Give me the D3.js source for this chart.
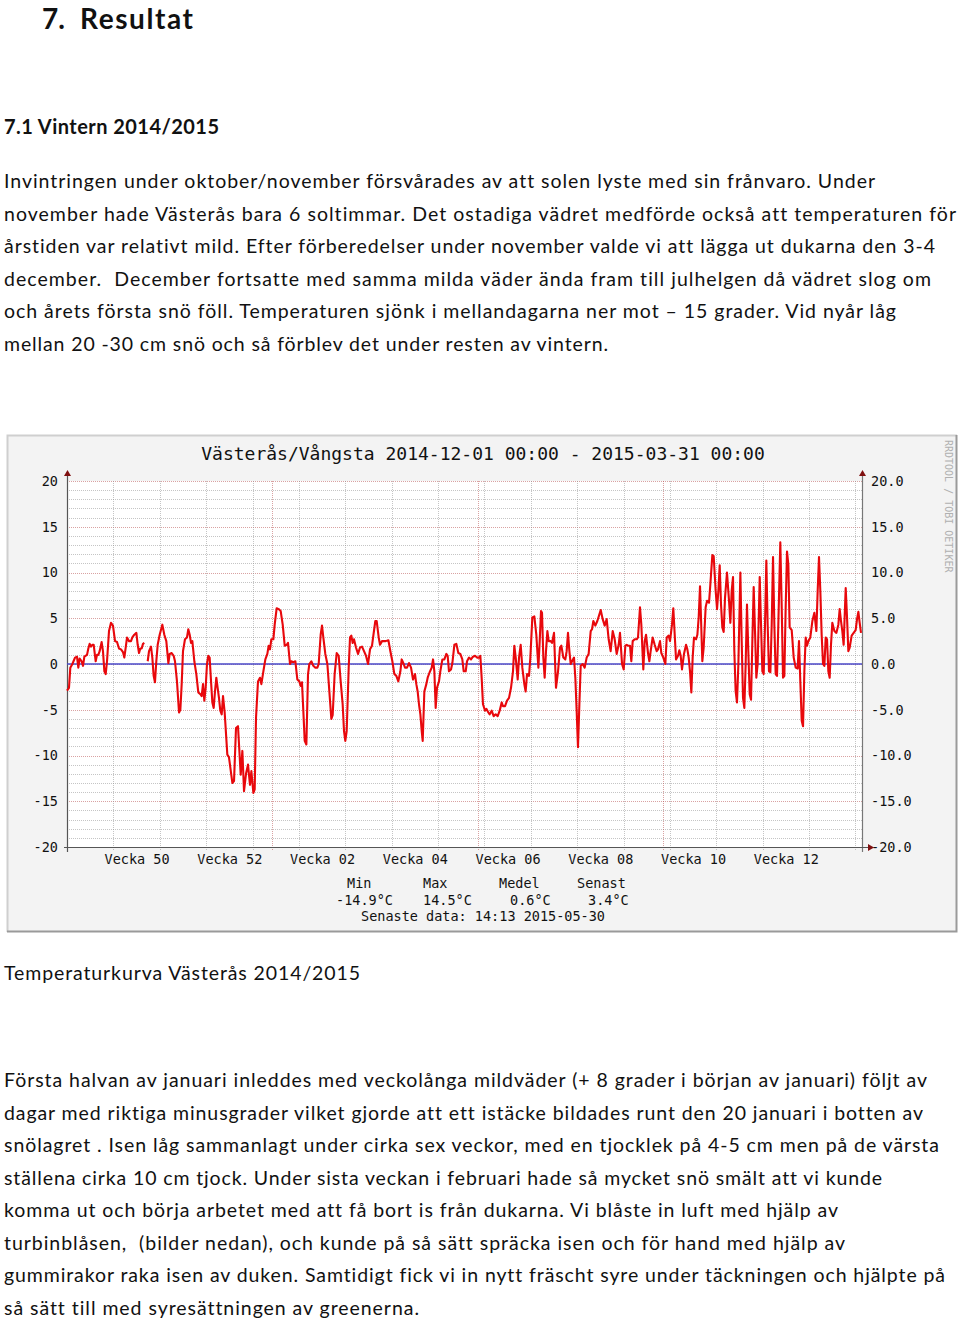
<!DOCTYPE html>
<html><head><meta charset="utf-8">
<script src="https://cdn.jsdelivr.net/npm/d3@7"></script>
<style>body{margin:0;background:#fff}svg{display:block}text{font-variant-ligatures:none;font-feature-settings:"liga" 0,"clig" 0}</style>
</head><body>
<svg id="page" width="960" height="1323"></svg>
<script>
// ---------------- data ----------------
const chartTitle = "Västerås/Vångsta 2014-12-01 00:00 - 2015-03-31 00:00";
const periodStart = "2014-12-01";
const periodEnd = "2015-03-31";
const yTicks = [-20, -15, -10, -5, 0, 5, 10, 15, 20];
const weekLabelMondays = ["2014-12-08","2014-12-22","2015-01-05","2015-01-19","2015-02-02","2015-02-16","2015-03-02","2015-03-16"];
const weekLabels = ["Vecka 50","Vecka 52","Vecka 02","Vecka 04","Vecka 06","Vecka 08","Vecka 10","Vecka 12"];
const legendHeads = ["Min","Max","Medel","Senast"];
const legendValues = ["-14.9°C","14.5°C","0.6°C","3.4°C"];
const lastDataText = "Senaste data: 14:13 2015-05-30";
const watermark = "RRDTOOL / TOBI OETIKER";
// [days since 2014-12-01 00:00, temperature °C]; null = missing data
const tempSeries = [
[0,-2.9],[0.30,-2.6],[0.50,-0.4],[0.81,0.0],[1.21,0.7],[1.51,0.8],[1.71,-0.4],[1.91,0.6],[2.21,0.3],[2.42,-0.2],
[2.62,0.8],[3.02,1.0],[3.22,1.7],[3.42,2.2],[3.62,1.9],[3.82,2.1],[4.03,2.1],[4.33,0.3],[4.53,1.0],[4.73,1.0],
[4.93,1.4],[5.23,2.4],[5.43,1.4],[5.64,-0.8],[5.84,-1.1],[6.04,0.3],[6.34,3.6],[6.64,4.5],[6.94,4.2],[7.25,2.5],
[7.55,2.4],[7.85,1.7],[8.15,1.6],[8.45,1.3],[8.65,0.7],[8.86,1.8],[9.06,2.9],[9.36,2.5],[9.66,2.5],[9.86,2.9],
[10.16,3.2],[10.47,3.4],[10.67,2.1],[10.87,1.2],[11.07,1.7],[11.27,1.7],[11.47,2.2],[11.67,2.3],[11.9,null],
[12.18,0.3],[12.38,1.4],[12.68,1.9],[12.88,0.7],[13.08,-1.3],[13.28,-2.0],[13.48,0.3],[13.69,2.1],[13.99,3.2],
[14.39,4.3],[14.69,3.2],[14.99,2.5],[15.30,0.1],[15.50,1.1],[15.80,1.2],[16.10,0.9],[16.30,0.3],[16.60,-1.9],
[16.91,-5.3],[17.11,-5.0],[17.31,-2.2],[17.51,1.4],[17.81,2.7],[18.11,2.9],[18.31,3.8],[18.52,3.2],[18.72,2.3],
[18.92,2.5],[19.22,0.3],[19.52,-1.1],[19.82,-3.1],[20.13,-3.3],[20.33,-3.5],[20.53,-2.2],[20.73,-4.0],[20.93,-2.6],
[21.13,0.0],[21.33,0.9],[21.53,0.7],[21.74,-1.9],[21.94,-4.2],[22.14,-4.8],[22.34,-3.0],[22.54,-1.5],[22.74,-2.6],
[22.94,-3.7],[23.14,-5.1],[23.35,-5.5],[23.55,-3.5],[23.80,-5.3],
[24.20,-9.9],[24.45,-10.2],[24.96,-13.0],[25.21,-12.8],[25.51,-7.0],[25.81,-6.8],[26.22,-12.1],[26.47,-9.5],
[26.72,-13.9],[27.02,-12.0],[27.32,-11.0],[27.62,-13.2],[27.83,-11.7],[28.13,-14.1],[28.33,-13.7],[28.53,-5.9],
[28.83,-1.9],[29.13,-1.5],[29.34,-2.2],[29.64,-0.8],[29.94,0.5],[30.24,1.1],[30.44,2.0],[30.64,1.6],[30.84,2.7],
[31.15,2.7],[31.35,4.3],[31.65,6.1],[31.95,6.0],[32.25,5.8],[32.56,4.3],[32.86,2.0],[33.16,2.1],[33.36,2.3],
[33.66,0.0],[33.86,0.3],[34.17,0.2],[34.47,0.3],[34.77,-1.7],[35.07,-1.9],[35.27,-2.4],[35.47,-2.0],[35.67,-5.1],
[35.88,-8.4],[36.13,-8.8],[36.38,-1.1],[36.58,0.0],[36.88,0.3],[37.18,-0.2],[37.49,-0.4],[37.79,-0.4],[37.99,0.0],
[38.29,3.2],[38.49,4.2],[38.69,2.9],[38.99,1.1],[39.30,0.0],[39.60,-3.0],[39.90,-6.0],[40.10,-5.6],[40.40,-1.1],
[40.71,1.2],[41.01,0.9],[41.31,-1.9],[41.61,-4.4],[41.81,-7.3],[42.01,-8.4],[42.22,-7.3],[42.52,-0.4],[42.72,2.9],
[42.92,3.1],[43.12,2.3],[43.32,2.7],[43.62,1.8],[43.93,1.1],[44.23,1.8],[44.53,1.9],[44.83,1.4],[45.13,0.9],
[45.44,0.0],[45.74,1.6],[46.04,2.0],[46.24,3.1],[46.54,4.7],[46.74,4.7],[47.05,2.9],[47.25,2.1],[47.55,2.5],
[47.85,2.5],[48.10,2.5],[48.51,2.6],[48.81,1.4],[49.11,0.3],[49.41,-1.1],[49.71,-1.3],[50.01,-1.9],[50.32,-0.8],
[50.52,0.5],[50.82,0.0],[51.02,-0.4],[51.32,-0.4],[51.62,0.1],[51.93,-0.4],[52.23,-1.7],[52.53,-1.1],[52.73,-2.2],
[52.93,-3.0],[53.13,-4.4],[53.34,-5.5],[53.54,-7.3],[53.69,-8.4],[53.94,-3.0],[54.24,-2.2],[54.44,-1.5],[54.74,-0.9],
[55.05,-0.4],[55.25,0.5],[55.45,-0.8],[55.65,-4.8],[55.85,-2.6],[56.15,-1.9],[56.35,-0.8],[56.66,0.5],[56.96,0.5],
[57.26,1.1],[57.46,0.9],[57.66,-0.8],[57.96,-0.6],[58.17,0.1],[58.47,2.1],[58.77,2.2],[59.07,1.2],[59.37,1.1],
[59.67,0.5],[59.88,-0.8],[60.18,-0.8],[60.38,0.3],[60.68,0.7],[60.98,0.5],[61.28,0.8],[61.59,0.9],[61.89,0.7],
[62.19,0.7],[62.39,0.9],[62.59,-1.5],[62.79,-4.4],[63.10,-5.1],[63.30,-4.9],[63.60,-5.3],[63.80,-5.5],[64.10,-5.1],
[64.40,-5.7],[64.71,-5.5],[65.01,-5.7],[65.31,-5.1],[65.61,-4.2],[65.81,-4.6],[66.12,-4.6],[66.42,-4.0],[66.72,-3.7],
[67.02,-2.6],[67.32,-0.8],[67.52,2.0],[67.73,0.7],[68.03,-1.7],[68.23,0.7],[68.48,2.1],[68.73,-0.4],[69.03,-2.2],
[69.23,-3.0],[69.44,-1.1],[69.74,-1.3],[69.94,0.7],[70.24,5.1],[70.54,5.2],[70.84,3.2],[71.15,-0.4],[71.35,2.5],
[71.55,5.8],[71.70,5.6],[71.90,0.7],[72.10,-1.5],[72.30,1.4],[72.51,3.6],[72.71,2.5],[73.01,2.5],[73.21,2.3],
[73.51,3.4],[73.81,-2.6],[74.12,-0.8],[74.42,1.8],[74.62,2.0],[74.92,0.7],[75.22,0.5],[75.42,1.4],[75.62,3.4],
[75.83,1.4],[76.03,0.0],[76.23,0.3],[76.53,0.7],[76.73,-1.5],[76.93,-5.1],[77.13,-9.1],[77.34,-4.4],[77.54,-0.2],
[77.84,0.0],[78.14,-0.4],[78.44,0.7],[78.74,1.1],[79.05,3.6],[79.25,3.8],[79.45,4.7],[79.75,4.2],[80.05,4.7],
[80.35,5.4],[80.56,5.9],[80.86,4.9],[81.16,4.2],[81.46,4.9],[81.76,2.7],[82.06,1.4],[82.37,3.6],[82.67,2.7],
[82.97,1.1],[83.27,2.1],[83.47,3.4],[83.78,0.0],[84.03,-0.6],[84.28,2.0],[84.48,2.1],[84.68,2.0],[84.98,2.0],
[85.18,0.3],[85.39,2.5],[85.69,2.7],[85.99,2.7],[86.19,2.9],[86.49,6.2],[86.69,4.3],[86.99,-0.6],[87.20,2.5],
[87.40,3.2],[87.70,1.2],[87.90,0.3],[88.10,1.4],[88.40,2.9],[88.71,2.1],[89.01,1.4],[89.21,1.6],[89.51,2.5],
[89.71,1.2],[90.01,0.7],[90.32,0.0],[90.52,2.9],[90.82,3.1],[91.02,2.5],[91.32,4.3],[91.52,6.1],[91.73,3.2],
[91.93,0.5],[92.23,0.9],[92.43,1.5],[92.63,0.9],[92.83,-0.6],[93.13,1.1],[93.44,2.1],[93.64,1.6],[93.84,0.7],
[94.04,-0.8],[94.24,-3.1],[94.44,0.7],[94.64,2.9],[94.95,2.7],[95.15,3.2],[95.35,5.1],[95.55,8.5],[95.90,0.3],
[96.10,1.8],[96.40,6.2],[96.61,6.9],[96.91,6.7],[97.11,8.7],[97.41,11.9],[97.61,11.8],[97.91,8.0],[98.12,6.0],
[98.32,8.0],[98.52,10.8],[98.72,6.5],[98.92,4.0],[99.12,3.5],[99.32,7.2],[99.62,10.0],[99.93,6.9],[100.13,4.5],
[100.33,8.0],[100.53,9.5],[100.73,1.4],[100.93,-3.0],[101.13,-4.2],[101.34,0.0],[101.64,10.0],[101.84,2.5],
[102.04,-3.7],[102.24,-4.8],[102.44,0.0],[102.64,6.5],[102.84,1.4],[103.05,-3.3],[103.25,-3.9],[103.45,2.5],
[103.65,8.4],[103.85,3.6],[104.05,-1.5],[104.25,0.0],[104.56,9.5],[104.76,4.3],[104.96,-0.8],[105.16,-1.1],
[105.36,4.3],[105.56,11.3],[105.76,4.3],[105.96,-0.8],[106.17,-0.9],[106.37,4.3],[106.57,11.7],[106.77,4.3],
[106.97,-1.1],[107.17,-1.3],[107.37,4.3],[107.67,13.3],[107.88,6.2],[108.08,-1.5],[108.28,-1.3],[108.48,6.2],
[108.68,12.3],[108.88,10.9],[109.08,4.0],[109.39,3.7],[109.69,0.7],[109.99,-0.4],[110.29,-0.5],[110.49,2.5],
[110.69,-1.9],[110.90,-6.2],[111.10,-6.8],[111.30,-0.8],[111.50,2.9],[111.70,2.0],[111.90,2.5],[112.20,2.9],
[112.51,4.7],[112.81,5.6],[113.11,3.6],[113.31,8.0],[113.51,11.7],[113.71,8.0],[113.91,3.2],[114.12,0.0],
[114.32,-0.2],[114.52,2.9],[114.72,2.7],[114.92,-0.8],[115.12,-1.5],[115.32,2.1],[115.52,4.5],[115.83,3.6],
[116.13,3.4],[116.43,4.3],[116.63,6.0],[116.83,4.7],[117.03,3.6],[117.23,2.1],[117.54,8.3],[117.74,5.1],
[117.94,1.4],[118.14,1.8],[118.44,3.1],[118.74,3.4],[119.04,3.7],[119.25,4.9],[119.45,5.7],[119.65,4.5],[119.85,3.4]
];

// ---------------- page text ----------------
const heading1 = ["7.", "Resultat"];
const heading2 = "7.1 Vintern 2014/2015";
const para1 = [
 "Invintringen under oktober/november försvårades av att solen lyste med sin frånvaro. Under",
 "november hade Västerås bara 6 soltimmar. Det ostadiga vädret medförde också att temperaturen för",
 "årstiden var relativt mild. Efter förberedelser under november valde vi att lägga ut dukarna den 3-4",
 "december.  December fortsatte med samma milda väder ända fram till julhelgen då vädret slog om",
 "och årets första snö föll. Temperaturen sjönk i mellandagarna ner mot – 15 grader. Vid nyår låg",
 "mellan 20 -30 cm snö och så förblev det under resten av vintern."
];
const para1Widths = [871, 952, 931, 927, 892, 604];
const caption = "Temperaturkurva Västerås 2014/2015";
const para2 = [
 "Första halvan av januari inleddes med veckolånga mildväder (+ 8 grader i början av januari) följt av",
 "dagar med riktiga minusgrader vilket gjorde att ett istäcke bildades runt den 20 januari i botten av",
 "snölagret . Isen låg sammanlagt under cirka sex veckor, med en tjocklek på 4-5 cm men på de värsta",
 "ställena cirka 10 cm tjock. Under sista veckan i februari hade så mycket snö smält att vi kunde",
 "komma ut och börja arbetet med att få bort is från dukarna. Vi blåste in luft med hjälp av",
 "turbinblåsen,  (bilder nedan), och kunde på så sätt spräcka isen och för hand med hjälp av",
 "gummirakor raka isen av duken. Samtidigt fick vi in nytt fräscht syre under täckningen och hjälpte på",
 "så sätt till med syresättningen av greenerna."
];
const para2Widths = [923, 919, 935, 878, 834, 841, 941, 415];

// ---------------- drawing ----------------
const svg = d3.select("#page");
const bodyFont = "Lato, 'Open Sans', sans-serif";
const mono = "'DejaVu Sans Mono', monospace";

svg.append("text").attr("x", 42).attr("y", 29).attr("font-family", bodyFont).attr("font-weight", 700)
  .attr("font-size", 28).attr("fill", "#111").text(heading1[0]);
svg.append("text").attr("x", 80).attr("y", 29).attr("font-family", bodyFont).attr("font-weight", 700)
  .attr("font-size", 28).attr("fill", "#111").attr("textLength", 113).attr("lengthAdjust", "spacing").text(heading1[1]);
svg.append("text").attr("x", 4).attr("y", 134).attr("font-family", bodyFont).attr("font-weight", 700)
  .attr("font-size", 20).attr("fill", "#111").attr("textLength", 215).attr("lengthAdjust", "spacing").text(heading2);

function paragraph(lines, widths, y0) {
  lines.forEach((t, i) => {
    svg.append("text").attr("x", 4).attr("y", y0 + i * 32.55)
      .attr("font-family", bodyFont).attr("font-size", 19.5).attr("fill", "#111")
      .attr("textLength", widths[i]).attr("lengthAdjust", "spacing")
      .style("white-space", "pre").text(t);
  });
}
paragraph(para1, para1Widths, 188);
svg.append("text").attr("x", 4).attr("y", 980).attr("font-family", bodyFont).attr("font-size", 19.5)
  .attr("fill", "#111").attr("textLength", 356).attr("lengthAdjust", "spacing").text(caption);
paragraph(para2, para2Widths, 1087);

// ---- RRD chart ----
const g = svg.append("g");
const box = {x: 7, y: 435, w: 950, h: 497};
g.append("rect").attr("x", box.x).attr("y", box.y).attr("width", box.w).attr("height", box.h).attr("fill", "#f3f3f3");
g.append("path").attr("d", `M${box.x+0.5},${box.y+box.h} V${box.y+0.5} H${box.x+box.w}`).attr("fill", "none").attr("stroke", "#cfcfcf").attr("stroke-width", 2);
g.append("path").attr("d", `M${box.x+box.w-0.5},${box.y} V${box.y+box.h-0.5} H${box.x}`).attr("fill", "none").attr("stroke", "#9a9a9a").attr("stroke-width", 2);

const parseDay = d3.utcParse("%Y-%m-%d");
const t0 = parseDay(periodStart), t1 = parseDay(periodEnd);
const x = d3.scaleUtc().domain([t0, t1]).range([67, 862]);
const y = d3.scaleLinear().domain([-20, 20]).range([847, 481]);
const dayToDate = d => new Date(t0.getTime() + d * 864e5);

const plot = {l: 67, r: 862, t: 481, b: 847};
g.append("rect").attr("x", plot.l).attr("y", plot.t).attr("width", plot.r - plot.l).attr("height", plot.b - plot.t).attr("fill", "#fff");

// horizontal grid
const minorY = d3.range(-20, 21, 1).filter(v => v % 5 !== 0);
g.selectAll(".hmin").data(minorY).join("line").attr("x1", plot.l).attr("x2", plot.r)
  .attr("y1", d => Math.round(y(d)) + 0.5).attr("y2", d => Math.round(y(d)) + 0.5)
  .attr("stroke", "rgba(140,140,140,0.5)").attr("stroke-dasharray", "1,1");
g.selectAll(".hmaj").data(yTicks).join("line").attr("x1", plot.l).attr("x2", plot.r)
  .attr("y1", d => Math.round(y(d)) + 0.5).attr("y2", d => Math.round(y(d)) + 0.5)
  .attr("stroke", "rgba(180,70,70,0.5)").attr("stroke-dasharray", "1,1");
// vertical grid: weeks (minor), months (major)
const mondays = d3.utcMonday.range(t0, t1);
g.selectAll(".vmin").data(mondays).join("line").attr("y1", plot.t).attr("y2", plot.b + 4)
  .attr("x1", d => Math.round(x(d)) + 0.5).attr("x2", d => Math.round(x(d)) + 0.5)
  .attr("stroke", "rgba(140,140,140,0.5)").attr("stroke-dasharray", "1,1");
const months = d3.utcMonth.range(d3.utcDay.offset(t0, 1), t1);
g.selectAll(".vmaj").data(months).join("line").attr("y1", plot.t).attr("y2", plot.b + 4)
  .attr("x1", d => Math.round(x(d)) + 0.5).attr("x2", d => Math.round(x(d)) + 0.5)
  .attr("stroke", "rgba(180,70,70,0.5)").attr("stroke-dasharray", "1,1");

// axes lines
g.append("line").attr("x1", plot.l + 0.5).attr("x2", plot.l + 0.5).attr("y1", plot.t - 8).attr("y2", plot.b + 5).attr("stroke", "#555").attr("stroke-width", 1.2);
g.append("line").attr("x1", plot.r + 0.5).attr("x2", plot.r + 0.5).attr("y1", plot.t - 8).attr("y2", plot.b + 5).attr("stroke", "#777").attr("stroke-width", 1.2);
g.append("line").attr("x1", plot.l - 3).attr("x2", plot.r + 8).attr("y1", plot.b + 0.5).attr("y2", plot.b + 0.5).attr("stroke", "#555").attr("stroke-width", 1.2);
g.append("path").attr("d", `M${plot.l-3},${plot.t-5} L${plot.l+0.5},${plot.t-11} L${plot.l+4},${plot.t-5}Z`).attr("fill", "#7f1010");
g.append("path").attr("d", `M${plot.r-3},${plot.t-5} L${plot.r+0.5},${plot.t-11} L${plot.r+4},${plot.t-5}Z`).attr("fill", "#7f1010");
g.append("path").attr("d", `M${plot.r+6},${plot.b-3} L${plot.r+12},${plot.b+0.5} L${plot.r+6},${plot.b+4}Z`).attr("fill", "#7f1010");

// zero line
g.append("line").attr("x1", plot.l).attr("x2", plot.r).attr("y1", y(0)).attr("y2", y(0))
  .attr("stroke", "#4848c8").attr("stroke-width", 1.6);

// temperature line
const line = d3.line().defined(d => d[1] !== null).x(d => x(dayToDate(d[0]))).y(d => y(d[1]));
g.append("path").datum(tempSeries).attr("d", line).attr("fill", "none")
  .attr("stroke", "#e8080c").attr("stroke-width", 2.1).attr("stroke-linejoin", "round");

// axis labels (ASCII hyphen-minus as in the reference)
const axisL = d3.axisLeft(y).tickValues(yTicks).tickFormat(d => String(d)).tickSize(0).tickPadding(9);
const gl = g.append("g").attr("transform", `translate(${plot.l},0)`).call(axisL);
const axisR = d3.axisRight(y).tickValues(yTicks).tickFormat(d => d.toFixed(1)).tickSize(0).tickPadding(9);
const gr = g.append("g").attr("transform", `translate(${plot.r},0)`).call(axisR);
[gl, gr].forEach(a => {
  a.select(".domain").remove();
  a.selectAll("text").attr("font-family", mono).attr("font-size", 13.5).attr("fill", "#111");
});
const axisB = d3.axisBottom(x).tickValues(weekLabelMondays.map(s => d3.utcHour.offset(parseDay(s), 84)))
  .tickFormat((d, i) => weekLabels[i]).tickSize(0).tickPadding(7);
const gb = g.append("g").attr("transform", `translate(0,${plot.b})`).call(axisB);
gb.select(".domain").remove();
gb.selectAll("text").attr("font-family", mono).attr("font-size", 13.5).attr("fill", "#111");

// title
g.append("text").attr("x", 483).attr("y", 460).attr("text-anchor", "middle")
  .attr("font-family", mono).attr("font-size", 18).attr("fill", "#111").text(chartTitle);
// watermark
g.append("text").attr("transform", "translate(945,440) rotate(90)").attr("font-family", mono)
  .attr("font-size", 10).attr("fill", "#b0b0b0").text(watermark);

// legend
const headX = [347, 423, 499, 577];
const valX = [336, 423, 510, 588];
g.selectAll(".lh").data(legendHeads).join("text").attr("x", (d, i) => headX[i]).attr("y", 888)
  .attr("font-family", mono).attr("font-size", 13.5).attr("fill", "#111").text(d => d);
g.selectAll(".lv").data(legendValues).join("text").attr("x", (d, i) => valX[i]).attr("y", 905)
  .attr("font-family", mono).attr("font-size", 13.5).attr("fill", "#111").text(d => d);
g.append("text").attr("x", 483).attr("y", 921).attr("text-anchor", "middle")
  .attr("font-family", mono).attr("font-size", 13.5).attr("fill", "#111").text(lastDataText);
</script>
</body></html>
